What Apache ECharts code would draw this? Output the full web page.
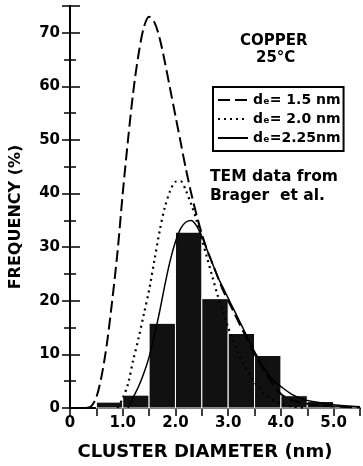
<!DOCTYPE html>
<html>
<head>
<meta charset="utf-8">
<script src="https://cdn.jsdelivr.net/npm/echarts@6/dist/echarts.min.js"></script>
<style>
  html, body { margin: 0; padding: 0; background: #fff; }
  #chart { width: 363px; height: 466px; }
</style>
</head>
<body>
<div id="chart"></div>
<script>
// TEM histogram (bin start, bin end in nm) and frequency in %
const binLo = [0.5, 1.0, 1.5, 2.0, 2.5, 3.0, 3.5, 4.0, 4.5, 5.0];
const binHi = [1.0, 1.5, 2.0, 2.5, 3.0, 3.5, 4.0, 4.5, 5.0, 5.5];
const temFreq = [1.1, 2.4, 15.8, 32.8, 20.4, 13.9, 9.8, 2.3, 1.2, 0.5];

// model curves
const dashX = [0.3, 0.4, 0.5, 0.6, 0.7, 0.8, 0.9, 1.0, 1.1, 1.2, 1.3, 1.4, 1.5, 1.6, 1.7, 1.8, 1.9, 2.0, 2.1, 2.2, 2.3, 2.4, 2.5, 2.6, 2.7, 2.8, 2.9, 3.0, 3.1, 3.2, 3.3, 3.4, 3.5, 3.6, 3.7, 3.8, 3.9, 4.0, 4.2, 4.5, 5.0, 5.5];
const dashY = [0, 0.3, 2, 6, 12, 20, 29, 40, 50, 59, 66, 71, 73, 72, 69, 64.5, 59.5, 54.5, 49.5, 44.5, 40, 36, 32.5, 29.5, 27, 24.5, 22, 20, 18, 16, 14, 12, 10, 8.3, 6.7, 5.2, 3.8, 2.6, 1.5, 0.8, 0.3, 0.1];

const dotX = [0.9, 1.0, 1.1, 1.2, 1.3, 1.4, 1.5, 1.6, 1.7, 1.8, 1.9, 2.0, 2.1, 2.2, 2.3, 2.4, 2.5, 2.6, 2.7, 2.8, 2.9, 3.0, 3.1, 3.2, 3.3, 3.4, 3.5, 3.6, 3.7, 3.8, 3.9, 4.0, 4.2, 4.5];
const dotY = [0, 1.8, 4.5, 9, 13, 17.5, 22, 27.5, 33, 37.5, 40.5, 42.2, 42.3, 40.5, 38, 35, 31.5, 28, 24.5, 21, 18, 15, 12.5, 10, 8, 6.3, 4.8, 3.6, 2.6, 1.8, 1.2, 0.8, 0.3, 0];

const solidX = [1.1, 1.2, 1.3, 1.4, 1.5, 1.6, 1.7, 1.8, 1.9, 2.0, 2.1, 2.2, 2.3, 2.4, 2.5, 2.6, 2.7, 2.8, 2.9, 3.0, 3.1, 3.2, 3.3, 3.4, 3.5, 3.6, 3.7, 3.8, 3.9, 4.0, 4.2, 4.4, 4.6, 5.0, 5.5];
const solidY = [0, 2, 4, 6.5, 9.5, 13.5, 18, 23, 27.5, 31, 33.5, 34.7, 35, 34, 32, 29.5, 27, 24.5, 22.5, 20.5, 18.5, 16.5, 14.5, 12.5, 10.5, 8.8, 7.2, 5.8, 4.8, 4, 2.6, 1.7, 1.2, 0.6, 0.2];

const curveNames = ['dₑ= 1.5 nm', 'dₑ= 2.0 nm', 'dₑ=2.25nm'];

const font = 'DejaVu Sans';
const zip = (xs, ys) => xs.map((x, i) => [x, ys[i]]);

const chart = echarts.init(document.getElementById('chart'));

const axisLine = {show: true, lineStyle: {color: '#000', width: 2}};

chart.setOption({
  animation: false,
  backgroundColor: '#fff',
  grid: {left: 68, right: 1, top: 6, bottom: 56},
  legend: {
    data: curveNames,
    orient: 'vertical',
    left: 213,
    top: 87,
    width: 130,
    padding: [6, 3, 6, 4],
    itemGap: 5,
    itemWidth: 30,
    itemHeight: 13,
    borderColor: '#000',
    borderWidth: 2,
    itemStyle: {color: 'rgba(0,0,0,0)', borderWidth: 0},
    textStyle: {fontFamily: font, fontWeight: 'bold', fontSize: 14, color: '#000'}
  },
  xAxis: [
    {
      type: 'value', min: 0, max: 5.5, interval: 0.5,
      axisLine: axisLine,
      axisTick: {show: false},
      splitLine: {show: false},
      axisLabel: {
        margin: 8,
        fontFamily: font, fontWeight: 'bold', fontSize: 15, color: '#000',
        formatter: v => (v === 0 ? '0' : (Number.isInteger(v) && v < 5.5 ? v.toFixed(1) : ''))
      },
      name: 'CLUSTER DIAMETER (nm)',
      nameLocation: 'middle',
      nameGap: 35,
      nameTextStyle: {fontFamily: font, fontWeight: 'bold', fontSize: 18, color: '#000', padding: [0, 20, 0, 0]}
    },
    {
      type: 'value', min: 0, max: 5.5, interval: 0.5, position: 'top',
      axisLine: axisLine,
      axisTick: {show: true, inside: true, length: 8, lineStyle: {color: '#000', width: 1.5}},
      axisLabel: {show: false},
      splitLine: {show: false}
    }
  ],
  yAxis: [
    {
      type: 'value', min: 0, max: 75, interval: 10,
      axisLine: axisLine,
      axisTick: {show: true, inside: true, length: 10, lineStyle: {color: '#000', width: 1.5}},
      minorTick: {show: true, splitNumber: 2, length: 6, lineStyle: {color: '#000', width: 1.5}},
      splitLine: {show: false},
      axisLabel: {
        margin: 10,
        fontFamily: font, fontWeight: 'bold', fontSize: 15, color: '#000',
        formatter: v => (v > 70 ? '' : String(v))
      },
      name: 'FREQUENCY (%)',
      nameLocation: 'middle',
      nameGap: 46,
      nameTextStyle: {fontFamily: font, fontWeight: 'bold', fontSize: 16, color: '#000', padding: [0, 20, 0, 0]}
    },
    {
      type: 'value', min: 0, max: 75, interval: 10, position: 'right',
      axisLine: axisLine,
      axisTick: {show: true, inside: true, length: 8, lineStyle: {color: '#000', width: 1.5}},
      minorTick: {show: true, splitNumber: 2, length: 6, lineStyle: {color: '#000', width: 1.5}},
      splitLine: {show: false},
      axisLabel: {show: false}
    }
  ],
  graphic: [
    {type: 'text', left: 240, top: 34, style: {text: 'COPPER', font: 'bold 15px "DejaVu Sans"', fill: '#000'}},
    {type: 'text', left: 256, top: 51, style: {text: '25°C', font: 'bold 15px "DejaVu Sans"', fill: '#000'}},
    {type: 'text', left: 210, top: 169, style: {text: 'TEM data from', font: 'bold 15.5px "DejaVu Sans"', fill: '#000'}},
    {type: 'text', left: 210, top: 188, style: {text: 'Brager  et al.', font: 'bold 15.5px "DejaVu Sans"', fill: '#000'}}
  ],
  series: [
    {
      name: 'TEM',
      type: 'custom',
      data: binLo.map((lo, i) => [lo, binHi[i], temFreq[i]]),
      renderItem: (params, api) => {
        const p0 = api.coord([api.value(0), api.value(2)]);
        const p1 = api.coord([api.value(1), 0]);
        return {
          type: 'rect',
          shape: {x: p0[0], y: p0[1], width: p1[0] - p0[0], height: p1[1] - p0[1]},
          style: {fill: '#111', stroke: '#fff', lineWidth: 1}
        };
      },
      z: 1
    },
    {
      name: curveNames[0], type: 'line', data: zip(dashX, dashY),
      smooth: 0.3, showSymbol: false, symbol: 'none', color: '#000',
      lineStyle: {color: '#000', width: 2, type: [12, 5]}, z: 3
    },
    {
      name: curveNames[1], type: 'line', data: zip(dotX, dotY),
      smooth: 0.3, showSymbol: false, symbol: 'none', color: '#000',
      lineStyle: {color: '#000', width: 2.2, type: [2, 4]}, z: 3
    },
    {
      name: curveNames[2], type: 'line', data: zip(solidX, solidY),
      smooth: 0.3, showSymbol: false, symbol: 'none', color: '#000',
      lineStyle: {color: '#000', width: 1.5}, z: 3
    }
  ]
});
</script>
</body>
</html>
